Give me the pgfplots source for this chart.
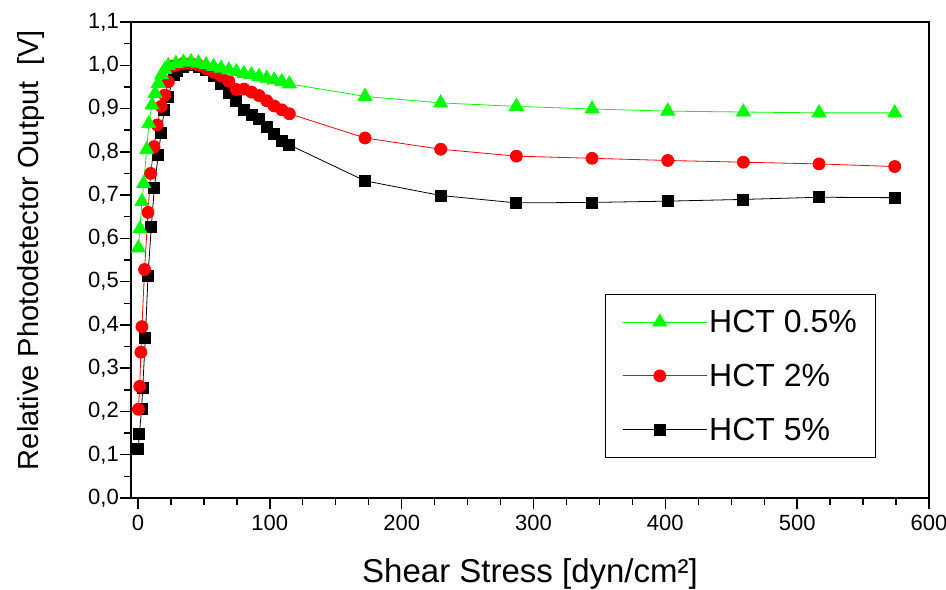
\documentclass[border=0pt]{standalone}
\usepackage{pgfplots}
\pgfplotsset{compat=1.18}
\usepackage{fontspec}
\setmainfont{Liberation Sans}

\definecolor{hctgreen}{RGB}{0,255,0}
\definecolor{hctred}{RGB}{255,0,0}

\begin{document}
\begin{tikzpicture}
\useasboundingbox (0,0) rectangle (946bp,590bp);
\begin{axis}[
    at={(131bp,92bp)}, anchor=south west,
    scale only axis, width=798bp, height=476bp,
    xmin=-5.3, xmax=600, ymin=0, ymax=1.1,
    xtick={0,100,200,300,400,500,600},
    ytick={0,0.1,0.2,0.3,0.4,0.5,0.6,0.7,0.8,0.9,1.0,1.1},
    minor x tick num=3, minor y tick num=1,
    xtick pos=left, ytick pos=left,
    tick align=outside,
    major tick length=11bp, minor tick length=7bp,
    tick style={line width=1.4bp, black},
    axis line style={line width=1.6bp},
    clip=false,
    tick label style={font=\fontsize{22bp}{26bp}\selectfont},
    /pgf/number format/assume math mode=true,
    yticklabel style={inner xsep=1bp, /pgf/number format/.cd, fixed, fixed zerofill, precision=1, use comma},
    xticklabel style={yshift=-3bp, /pgf/number format/.cd, fixed, precision=0},
    xlabel={Shear Stress [dyn/cm²]},
    ylabel={Relative Photodetector Output\ \ [V]},
    xlabel style={font=\fontsize{33bp}{38bp}\selectfont, at={(axis description cs:0.5,-0.1765)}, anchor=base},
    ylabel style={font=\fontsize{29bp}{34bp}\selectfont, at={(axis description cs:-0.1165,0.521)}, anchor=base},
    legend style={at={(axis description cs:0.594,0.084)}, anchor=south west,
        draw=black, line width=0.8bp, font=\fontsize{32bp}{38bp}\selectfont,
        inner xsep=17bp, inner ysep=14bp, row sep=26bp},
    legend cell align=left,
    reverse legend,
    legend image code/.code={
        \path (0bp,0bp) -- (84bp,0bp);
        \draw[mark repeat=2,mark phase=2] plot coordinates {(0bp,0bp) (37bp,0bp) (74bp,0bp)};},
]
\addplot[black, line width=0.8bp, mark=square*, mark size=5.5bp, mark options={solid, fill=black, draw=black}] coordinates {
(0.3,0.114) (1.0,0.148) (2.8,0.206) (3.6,0.255) (5.6,0.371) (7.6,0.514) (10.1,0.626)
(12.4,0.717) (15.3,0.792) (17.5,0.843) (20.0,0.898) (23.0,0.928) (27.3,0.978) (29.4,0.987)
(34.4,0.997) (40.2,1.000) (45.9,0.997) (51.7,0.990) (57.4,0.976) (63.1,0.957) (68.9,0.937)
(74.6,0.917) (80.4,0.897) (86.1,0.885) (91.8,0.876) (97.6,0.858) (103.3,0.842) (109.1,0.826)
(114.8,0.816) (172.2,0.733) (229.6,0.699) (287.0,0.682) (344.4,0.683) (401.8,0.686)
(459.2,0.690) (516.6,0.695) (574.0,0.694)
};
\addlegendentry{HCT 5\%}
\addplot[hctred, line width=0.8bp, mark=*, mark size=6bp, mark options={solid, fill=hctred, draw=hctred}] coordinates {
(0.3,0.205) (1.3,0.258) (2.2,0.337) (3.0,0.396) (5.0,0.528) (7.6,0.660) (9.6,0.750)
(12.2,0.812) (14.6,0.862) (17.6,0.905) (20.3,0.931) (23.0,0.962) (26.5,0.998) (28.7,1.000)
(34.4,1.004) (40.2,1.004) (45.9,1.000) (51.7,0.992) (57.4,0.984) (63.1,0.975) (68.9,0.963)
(74.6,0.944) (80.4,0.945) (86.1,0.938) (91.8,0.930) (97.6,0.918) (103.3,0.906) (109.1,0.897)
(114.8,0.888) (172.2,0.832) (229.6,0.806) (287.0,0.790) (344.4,0.785) (401.8,0.780)
(459.2,0.776) (516.6,0.772) (574.0,0.766)
};
\addlegendentry{HCT 2\%}
\addplot[hctgreen, line width=0.8bp, mark=triangle*, mark size=8bp, mark options={solid, fill=hctgreen, draw=hctgreen}] coordinates {
(0.3,0.578) (1.5,0.622) (3.0,0.685) (4.3,0.727) (6.6,0.805) (8.2,0.865) (10.6,0.908)
(13.0,0.935) (15.4,0.958) (17.9,0.978) (20.3,0.990) (23.0,0.999) (28.7,1.004) (34.4,1.007)
(40.2,1.008) (45.9,1.005) (51.7,1.001) (57.4,0.997) (63.1,0.993) (68.9,0.989) (74.6,0.985)
(80.4,0.981) (86.1,0.978) (91.8,0.974) (97.6,0.970) (103.3,0.966) (109.1,0.962) (114.8,0.957)
(172.2,0.928) (229.6,0.913) (287.0,0.905) (344.4,0.899) (401.8,0.894) (459.2,0.892)
(516.6,0.890) (574.0,0.890)
};
\addlegendentry{HCT 0.5\%}
\end{axis}
\end{tikzpicture}
\end{document}
